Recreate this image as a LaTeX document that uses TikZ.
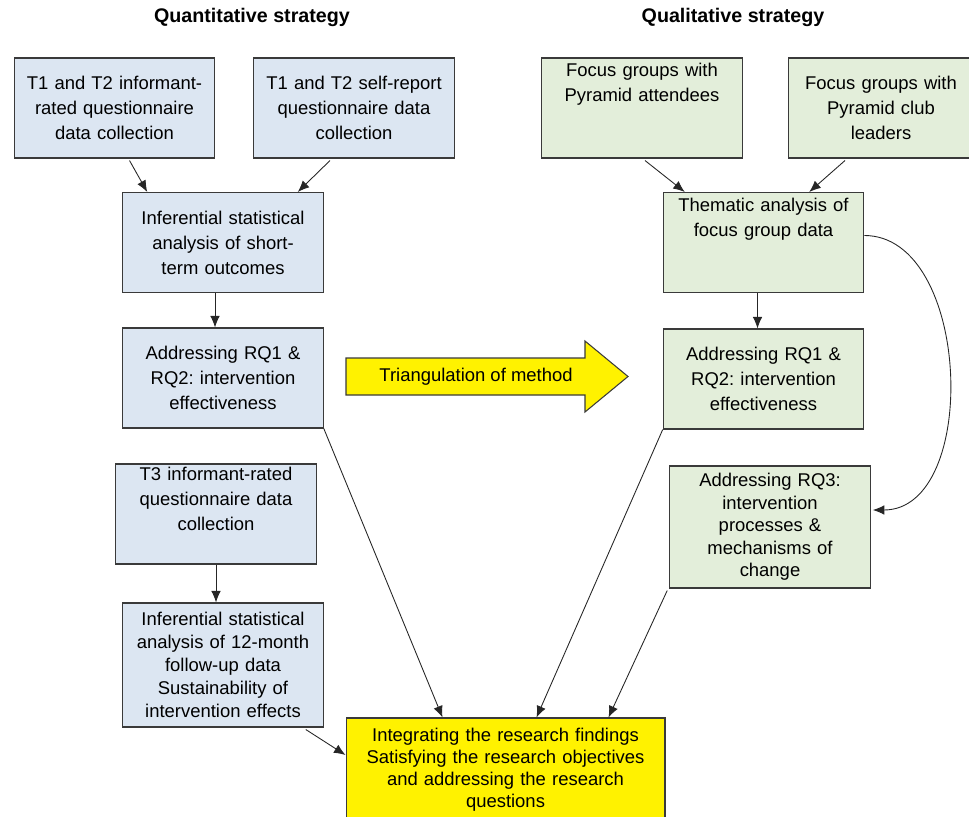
\documentclass[tikz,border=0pt]{standalone}
\usepackage{fontspec}
\setmainfont{Liberation Sans}
\usetikzlibrary{calc,arrows.meta}
\frenchspacing

\definecolor{quantfill}{HTML}{DCE6F2}
\definecolor{qualfill}{HTML}{E3EEDA}
\definecolor{edgegray}{HTML}{3A3A3A}

% text pushed to the top of a box
\newcommand{\toplines}[2]{\parbox[c][#1][t]{\linewidth}{\centering #2}}

\tikzset{
  box/.style={draw=edgegray, line width=0.6pt, rectangle, align=center,
    inner sep=3pt, minimum width=4cm, minimum height=2cm, text width=3.8cm,
    font=\fontsize{10.5}{14.2}\selectfont},
  quant/.style={box, fill=quantfill},
  qual/.style={box, fill=qualfill},
  heading/.style={font=\bfseries\fontsize{11.2}{13}\selectfont},
  link/.style={-{Latex[length=2.3mm,width=1.9mm]}, line width=0.5pt, draw=black!85},
}

\begin{document}
\begin{tikzpicture}[x=0.02cm, y=-0.02cm]
\useasboundingbox (0,0) rectangle (969,817);

% Headings
\node[heading] (quanthead) at (252,17) {Quantitative strategy};
\node[heading] (qualhead) at (733,17) {Qualitative strategy};

% Quantitative strand
\node[quant] (infT12) at (114.5,108) {T1 and T2 informant-\\rated questionnaire\\data collection};
\node[quant, minimum width=3.92cm] (selfT12) at (354,108) {T1 and T2 self-report\\questionnaire data\\collection};
\node[quant] (anaST) at (223,242.5) {Inferential statistical\\analysis of short-\\term outcomes};
\node[quant] (rqQuant) at (223,378) {Addressing RQ1 \&\\RQ2: intervention\\effectiveness};
\node[quant] (infT3) at (216,514) {\toplines{1.79cm}{\vspace*{-1pt}T3 informant-rated\\questionnaire data\\collection}};
\node[quant, minimum height=2.48cm, font=\fontsize{10.5}{13}\selectfont] (anaFU) at (223,665)
  {Inferential statistical\\analysis of 12-month\\follow-up data\\Sustainability of\\intervention effects};

% Qualitative strand
\node[qual, minimum width=3.92cm] (fgAtt) at (642,108) {\toplines{1.79cm}{Focus groups with\\Pyramid attendees}};
\node[qual, minimum width=3.64cm, text width=3.5cm] (fgLead) at (881,108) {Focus groups with\\Pyramid club\\leaders};
\node[qual] (thema) at (763.5,242.5) {\toplines{1.79cm}{Thematic analysis of\\focus group data}};
\node[qual] (rqQual) at (763.5,379) {Addressing RQ1 \&\\RQ2: intervention\\effectiveness};
\node[qual, minimum height=2.44cm, font=\fontsize{10.5}{12.8}\selectfont] (rq3) at (770,527)
  {Addressing RQ3:\\intervention\\processes \&\\mechanisms of\\change};

% Integration box
\node[box, fill=yellow, minimum width=6.38cm, minimum height=2.08cm, text width=6.1cm,
  font=\fontsize{10.5}{12.6}\selectfont] (integ) at (505.5,770)
  {Integrating the research findings\\Satisfying the research objectives\\and addressing the research\\questions};

% Triangulation arrow
\draw[draw=edgegray, line width=0.6pt, fill=yellow] (346,358) -- (585,358) -- (585,341)
  -- (628,376.5) -- (585,412) -- (585,395) -- (346,395) -- cycle;
\node[font=\fontsize{10.5}{13}\selectfont] (triang) at (476,376.5) {Triangulation of method};

% Connectors
\draw[link] ($(infT12.south)+(15,2)$) -- ($(anaST.north west)+(25,0)$);
\draw[link] ($(selfT12.south)+(-24,2)$) -- ($(anaST.north east)+(-26,0)$);
\draw[link] ($(anaST.south)+(-8,0)$) -- ($(rqQuant.north)+(-8,0)$);
\draw[link] (infT3.south) -- (infT3.south |- anaFU.north);
\draw[link] (rqQuant.south east) -- ($(integ.north west)+(97,0)$);
\draw[link] ($(anaFU.south east)+(-18,2)$) -- ($(integ.west)+(0,-15)$);

\draw[link] ($(fgAtt.south)+(3,2)$) -- ($(thema.north west)+(22,0)$);
\draw[link] ($(fgLead.south)+(-36,2)$) -- ($(thema.north east)+(-55,0)$);
\draw[link] ($(thema.south)+(-6,0)$) -- ($(rqQual.north)+(-6,0)$);
\draw[link] ($(thema.east)+(0,-7)$) to[out=0, in=0] ($(rq3.east)+(2,-17)$);
\draw[link] (rqQual.south west) -- ($(integ.north west)+(191,0)$);
\draw[link] ($(rq3.south west)+(-2,2)$) -- ($(integ.north west)+(263,0)$);

\end{tikzpicture}
\end{document}
